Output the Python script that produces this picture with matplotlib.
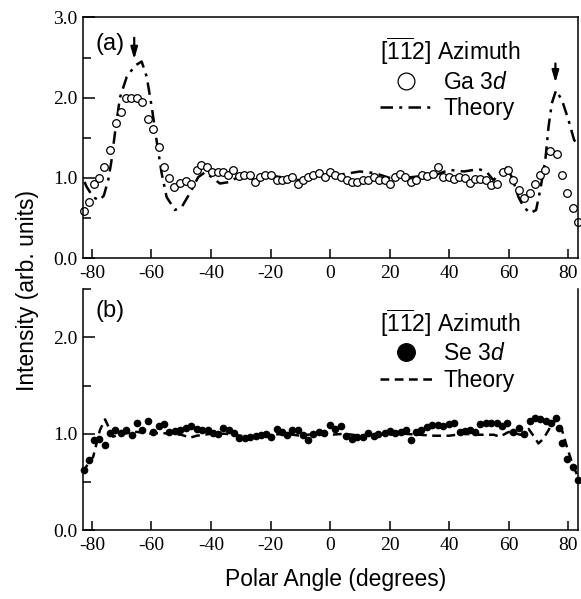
import matplotlib
matplotlib.use('Agg')
import matplotlib.pyplot as plt
import numpy as np

plt.rcParams['font.family'] = ['Liberation Sans', 'DejaVu Sans']
plt.rcParams['mathtext.fontset'] = 'custom'
plt.rcParams['mathtext.rm'] = 'Liberation Sans'
plt.rcParams['mathtext.it'] = 'Liberation Sans:italic'

# (a) Ga 3d data
ga_angle = np.array([-82.8, -80.9, -79.2, -77.5, -75.9, -73.9, -72.0, -70.4, -68.6, -66.9,
                     -65.0, -63.3, -61.3, -59.6, -57.5, -55.7, -54.0, -52.3, -50.4, -48.5,
                     -46.7, -44.8, -43.2, -41.5, -39.6, -37.8, -36.1, -34.2, -32.5, -30.6,
                     -28.8, -26.9, -25.2, -23.5, -21.9, -19.8, -17.9, -16.2, -14.5, -12.7,
                     -10.9, -9.0, -7.3, -5.6, -3.6, -1.7, 0.0, 1.7, 3.7, 5.6,
                     7.3, 9.0, 11.0, 12.9, 14.6, 16.6, 18.3, 20.2, 21.9, 23.5,
                     25.2, 27.2, 28.9, 30.8, 32.5, 34.5, 36.4, 38.1, 39.8, 41.5,
                     43.4, 45.2, 47.1, 48.7, 50.4, 52.3, 54.1, 56.0, 58.0, 59.9,
                     61.3, 63.3, 65.0, 67.0, 68.9, 70.6, 72.3, 73.9, 76.2, 77.9,
                     79.6, 81.5, 83.3])
ga_int = np.array([0.585, 0.70, 0.92, 1.0, 1.14, 1.35, 1.69, 1.82, 2.0, 2.0,
                   2.0, 1.94, 1.73, 1.61, 1.38, 1.13, 1.0, 0.89, 0.94, 0.96,
                   0.92, 1.10, 1.16, 1.14, 1.07, 1.07, 1.07, 1.04, 1.10, 1.02,
                   1.03, 1.03, 0.95, 1.01, 1.04, 1.04, 0.98, 0.98, 0.99, 1.01,
                   0.93, 0.97, 1.01, 1.03, 1.06, 1.01, 1.07, 1.03, 1.01, 0.97,
                   0.95, 0.95, 0.97, 0.98, 1.01, 0.97, 0.97, 0.93, 1.01, 1.05,
                   1.01, 0.95, 0.97, 1.04, 1.02, 1.05, 1.14, 1.01, 1.01, 0.99,
                   1.01, 1.00, 0.94, 0.99, 0.99, 0.97, 0.91, 0.92, 1.07, 1.10,
                   0.97, 0.85, 0.75, 0.81, 0.92, 1.03, 1.10, 1.34, 1.30, 1.03,
                   0.81, 0.62, 0.45])

# (a) theory
th_a_angle = np.array([-82.5, -81.8, -79.6, -77.5, -76.0, -74.5, -73.5, -72.3, -70.6, -68.3,
                       -65.5, -63.3, -61.6, -59.9, -58.3, -56.6, -54.9, -52.1, -49.8, -47.1,
                       -44.3, -42.0, -39.8, -37.0, -33.6, -30.3, -25, -20, -15, -10,
                       -5, 0, 5, 10, 15, 20, 25, 30, 35, 40,
                       45, 50, 52.7, 54.9, 57.1, 59.0, 61.1, 63.3, 65.0, 67.2,
                       69.2, 70.6, 72.3, 73.4, 74.5, 75.9, 77.9, 80.1, 82.0, 83.3])
th_a_int = np.array([0.95, 0.89, 0.76, 0.72, 0.78, 0.98, 1.20, 1.55, 2.0, 2.26,
                     2.40, 2.45, 2.26, 1.88, 1.47, 1.06, 0.76, 0.60, 0.64, 0.81,
                     1.01, 1.07, 1.01, 0.93, 0.95, 1.03, 0.98, 1.03, 1.0, 0.97,
                     1.05, 1.03, 1.05, 1.08, 1.06, 1.0, 1.0, 1.02, 1.03, 1.10,
                     1.08, 1.11, 1.07, 0.97, 1.07, 1.14, 1.01, 0.76, 0.64, 0.56,
                     0.60, 0.85, 1.22, 1.64, 1.93, 2.09, 1.97, 1.72, 1.47, 1.42])

# (b) Se 3d data
se_angle = np.array([-82.6, -81.0, -79.3, -77.6, -75.6, -73.9, -72.3, -70.4, -68.7, -66.7,
                     -65.0, -63.1, -61.3, -59.4, -57.5, -55.8, -54.0, -52.1, -50.4, -48.4,
                     -46.7, -44.8, -42.9, -41.1, -39.4, -37.8, -35.9, -34.0, -32.2, -30.5,
                     -28.6, -26.9, -25.0, -23.2, -21.5, -19.8, -17.9, -16.2, -14.5, -12.7,
                     -10.9, -9.0, -7.3, -5.6, -3.7, -1.9, 0.0, 1.8, 3.6, 5.4,
                     7.3, 9.0, 10.9, 12.7, 14.6, 16.2, 18.3, 20.2, 21.9, 23.8,
                     25.5, 27.1, 28.9, 30.6, 32.5, 34.4, 36.2, 38.1, 39.8, 41.5,
                     43.5, 45.2, 47.1, 48.7, 50.4, 52.4, 54.1, 56.0, 57.7, 59.6,
                     61.4, 63.3, 65.2, 67.0, 68.9, 70.6, 72.5, 74.3, 75.8, 76.9,
                     77.9, 79.6, 81.5, 83.3])
se_int = np.array([0.62, 0.73, 0.94, 0.95, 0.88, 1.01, 1.04, 1.01, 1.04, 0.99,
                   1.11, 1.04, 1.13, 1.02, 1.08, 1.10, 1.02, 1.03, 1.04, 1.06,
                   1.08, 1.05, 1.04, 1.04, 1.01, 1.00, 1.06, 1.04, 1.01, 0.96,
                   0.96, 0.97, 0.98, 0.99, 1.00, 0.97, 1.05, 1.02, 0.99, 1.04,
                   1.04, 0.99, 0.94, 1.00, 1.02, 1.01, 1.09, 1.05, 1.08, 0.98,
                   0.95, 0.97, 0.97, 1.01, 0.98, 1.00, 1.01, 1.03, 1.01, 1.02,
                   1.04, 0.94, 1.02, 1.04, 1.07, 1.09, 1.09, 1.08, 1.10, 1.11,
                   1.02, 1.03, 1.04, 1.02, 1.10, 1.11, 1.11, 1.11, 1.08, 1.11,
                   1.02, 1.06, 1.00, 1.13, 1.16, 1.15, 1.13, 1.11, 1.16, 1.06,
                   0.90, 0.74, 0.66, 0.52])

# (b) theory
th_b_angle = np.array([-83, -81.5, -79.6, -77.3, -75.6, -72.9, -70, -65, -60, -57,
                       -54, -50, -47, -44.8, -40, -35, -30, -25, -20, -15,
                       -10, -5, 0, 5, 10, 15, 20, 25, 30, 35,
                       40, 45, 50, 55, 57.1, 60, 64, 66.7, 68.3, 70,
                       71.7, 74, 76.2, 77.9, 79.6, 81.5, 83.3])
th_b_int = np.array([0.60, 0.68, 0.76, 1.04, 1.15, 0.97, 1.00, 1.02, 1.0, 1.01,
                     1.0, 0.99, 0.96, 0.98, 1.0, 1.0, 0.98, 0.97, 0.99, 1.0,
                     0.98, 1.0, 0.99, 1.0, 0.98, 1.0, 0.99, 1.0, 0.99, 0.98,
                     0.98, 1.0, 0.99, 0.99, 0.97, 1.02, 0.99, 1.05, 0.98, 0.90,
                     0.95, 1.07, 1.16, 1.04, 0.86, 0.68, 0.55])

xticks = [-80, -60, -40, -20, 0, 20, 40, 60, 80]
az_title = r'$[\overline{1}\overline{1}2]$ Azimuth'

fig = plt.figure(figsize=(5.81, 5.99), dpi=100)
ax1 = fig.add_axes([0.1429, 0.569, 0.852, 0.402])
ax2 = fig.add_axes([0.1429, 0.115, 0.852, 0.402])


def style_axes(ax, ymax, yticks, ylabels):
    ax.set_xlim(-83, 83.3)
    ax.set_ylim(0, ymax)
    ax.set_xticks(xticks)
    ax.set_xticklabels([str(v) for v in xticks], family='Liberation Serif', fontsize=14)
    ax.set_yticks(yticks)
    ax.set_yticklabels(ylabels, family='Liberation Serif', fontsize=14)
    ax.set_yticks([0.5, 1.5, 2.5][:len(yticks)], minor=True)
    ax.tick_params(axis='x', direction='in', length=6.5, width=1.1, pad=5)
    ax.tick_params(axis='y', which='major', direction='in', length=8.5, width=1.1, pad=4)
    ax.tick_params(axis='y', which='minor', direction='in', length=5.5, width=1.1)
    for s in ax.spines.values():
        s.set_linewidth(1.1)


# panel (a)
ax1.plot(th_a_angle, th_a_int, color='black', lw=1.8, linestyle=(0, (5, 2.5, 1.2, 2.5)),
         label='Theory')
ax1.plot(ga_angle, ga_int, 'o', mfc='white', mec='black', ms=5.5, mew=0.9, clip_on=False,
         label='Ga 3$d$')
style_axes(ax1, 3.0, [0, 1, 2, 3], ['0.0', '1.0', '2.0', '3.0'])
ax1.text(0.025, 0.89, '(a)', transform=ax1.transAxes, fontsize=17, va='center')
ax1.annotate('', xy=(-65.8, 2.44), xytext=(-65.8, 2.78),
             arrowprops=dict(arrowstyle='-|>,head_width=0.2,head_length=0.7', color='black', lw=1.6))
ax1.annotate('', xy=(75.7, 2.15), xytext=(75.7, 2.46),
             arrowprops=dict(arrowstyle='-|>,head_width=0.2,head_length=0.7', color='black', lw=1.6))
h, l = ax1.get_legend_handles_labels()
leg1 = ax1.legend([h[1], h[0]], [l[1], l[0]], title=az_title, loc='upper left',
                  bbox_to_anchor=(0.6, 0.925), frameon=False, fontsize=16.5, title_fontsize=16.5,
                  alignment='left', handlelength=2.3, handletextpad=0.45, labelspacing=0.15,
                  borderpad=0, borderaxespad=0, markerscale=2.2)

# panel (b)
ax2.plot(th_b_angle, th_b_int, color='black', lw=1.8, linestyle=(0, (3.5, 2.2)), label='Theory')
ax2.plot(se_angle, se_int, 'o', color='black', ms=4.5, clip_on=False, label='Se 3$d$')
style_axes(ax2, 2.5, [0, 1, 2], ['0.0', '1.0', '2.0'])
ax2.spines['top'].set_visible(False)
ax2.text(0.025, 0.91, '(b)', transform=ax2.transAxes, fontsize=17, va='center')
h, l = ax2.get_legend_handles_labels()
leg2 = ax2.legend([h[1], h[0]], [l[1], l[0]], title=az_title, loc='upper left',
                  bbox_to_anchor=(0.6, 0.925), frameon=False, fontsize=16.5, title_fontsize=16.5,
                  alignment='left', handlelength=2.3, handletextpad=0.45, labelspacing=0.15,
                  borderpad=0, borderaxespad=0, markerscale=2.8)

fig.text(0.048, 0.515, 'Intensity (arb. units)', rotation=90, fontsize=16.5, ha='center', va='center')
fig.text(0.577, 0.032, 'Polar Angle (degrees)', fontsize=16.5, ha='center', va='center')

plt.savefig('out.png', dpi=100)
